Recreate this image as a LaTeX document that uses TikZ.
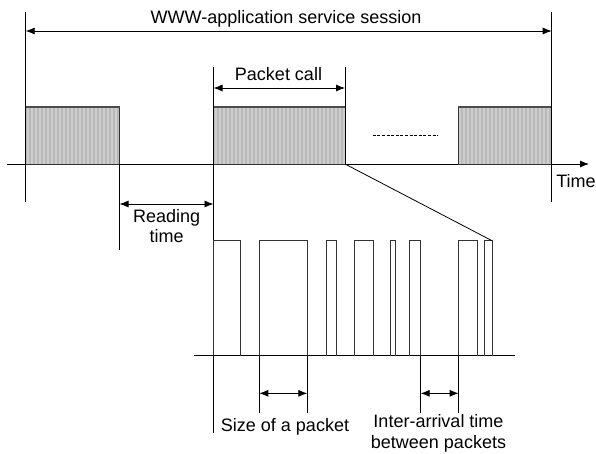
\documentclass[tikz,border=0pt]{standalone}
\usepackage{fontspec}
\setmainfont{Liberation Sans}
\usetikzlibrary{arrows.meta}
\usetikzlibrary{calc}
\definecolor{burstdark}{RGB}{184,184,184}
\definecolor{burstlight}{RGB}{206,206,206}

\begin{document}
\begin{tikzpicture}[x=1pt, y=-1pt, line width=0.8pt]
    \useasboundingbox (0,0) rectangle (596,453);
    \tikzstyle{label} = [inner sep=0pt, anchor=base, font=\fontsize{18}{20.5}\selectfont, align=center]
    \tikzstyle{span} = [{Latex[length=9pt,width=7pt]}-{Latex[length=9pt,width=7pt]}]
    \tikzstyle{burst} = [draw=black!80, fill=burstdark]
    \tikzstyle{pkt} = [draw=black!80]

    % upper time axis
    \coordinate (A0) at (7,164);
    \coordinate (A1) at (589,164);
    \draw[-{Latex[length=9pt,width=7pt]}] (A0) -- (A1);

    % packet calls (shaded bursts) with vertical stripes
    \foreach \a/\b [count=\i] in {25.7/119.5, 213.5/345, 458.3/551.7} {
        \draw[burst] (\a,107) rectangle (\b,164);
        \begin{scope}
            \clip (\a,107.5) rectangle (\b,163.5);
            \foreach \x in {0, 4, ..., 136} {
                \draw[burstlight, line width=2pt] ($(\a,107) + (\x+2,0)$) -- ++(0,57);
            }
        \end{scope}
        \draw[black!80] (\a,107) rectangle (\b,164);
        \draw[black!70, line width=1.4pt] (\a,107) -- (\b,107);
        \coordinate (B\i_L) at (\a,164);
        \coordinate (B\i_R) at (\b,164);
    }

    % vertical marker lines
    \coordinate (S_L1) at (25.7,12);   \coordinate (S_L2) at (25.7,202);
    \coordinate (S_R1) at (551.7,12);  \coordinate (S_R2) at (551.7,202);
    \coordinate (P_L1) at (213.5,67);  \coordinate (P_L2) at (213.5,433);
    \coordinate (P_R1) at (345,67);
    \coordinate (R_L2) at (119.5,250);
    \draw (S_L1) -- (S_L2);
    \draw (S_R1) -- (S_R2);
    \draw (P_L1) -- (P_L2);
    \draw (P_R1) -- (B2_R);
    \draw (B1_R) -- (R_L2);

    % dimension arrows of the upper part
    \draw[span] (25.7,31) -- (551.7,31);
    \draw[span] (213.5,88) -- (345,88);
    \draw[span] (119.5,204) -- (213.5,204);

    % dots between bursts
    \draw[line width=0.9pt, dash pattern=on 3pt off 1.6pt] (372.7,135.7) -- (437.7,135.7);

    \node[label] (session) at (286,23.3) {WWW-application service session};
    \node[label] (call) at (278.5,80.7) {Packet call};
    \node[label] (reading) at (166.7,242.7) {Reading\\time};
    \node[label, anchor=base west] (time) at (556,187.3) {Time};

    % zoomed packets of one call
    \coordinate (Z0) at (194,355.7);
    \coordinate (Z1) at (515,355.7);
    \draw (Z0) -- (Z1);
    \foreach \a/\b [count=\i] in {213.3/240.7, 259.3/307.3, 326.7/336.7, 354.3/373.3,
                                  390/395.7, 409/420.7, 458.7/477.3, 484.7/492} {
        \draw[pkt] (\a,355.7) -- (\a,240.7) -- (\b,240.7) -- (\b,355.7);
        \coordinate (K\i_L) at (\a,355.7);
        \coordinate (K\i_R) at (\b,355.7);
    }
    \coordinate (K8_T) at (492,240.7);
    \draw (B2_R) -- (K8_T);

    % size of a packet
    \coordinate (Z_S1) at (259.3,412.7);
    \coordinate (Z_S2) at (307.3,412.7);
    \draw (K2_L) -- (Z_S1);
    \draw (K2_R) -- (Z_S2);
    \draw[span] (259.3,393.3) -- (307.3,393.3);

    % inter-arrival time
    \coordinate (Z_I1) at (420.7,412.7);
    \coordinate (Z_I2) at (458.7,412.7);
    \draw (K6_R) -- (Z_I1);
    \draw (K7_L) -- (Z_I2);
    \draw[span] (420.7,393.3) -- (458.7,393.3);

    \node[label] (size) at (285,431.7) {Size of a packet};
    \node[label] (inter) at (438.5,448.3) {Inter-arrival time\\between packets};
\end{tikzpicture}
\end{document}
